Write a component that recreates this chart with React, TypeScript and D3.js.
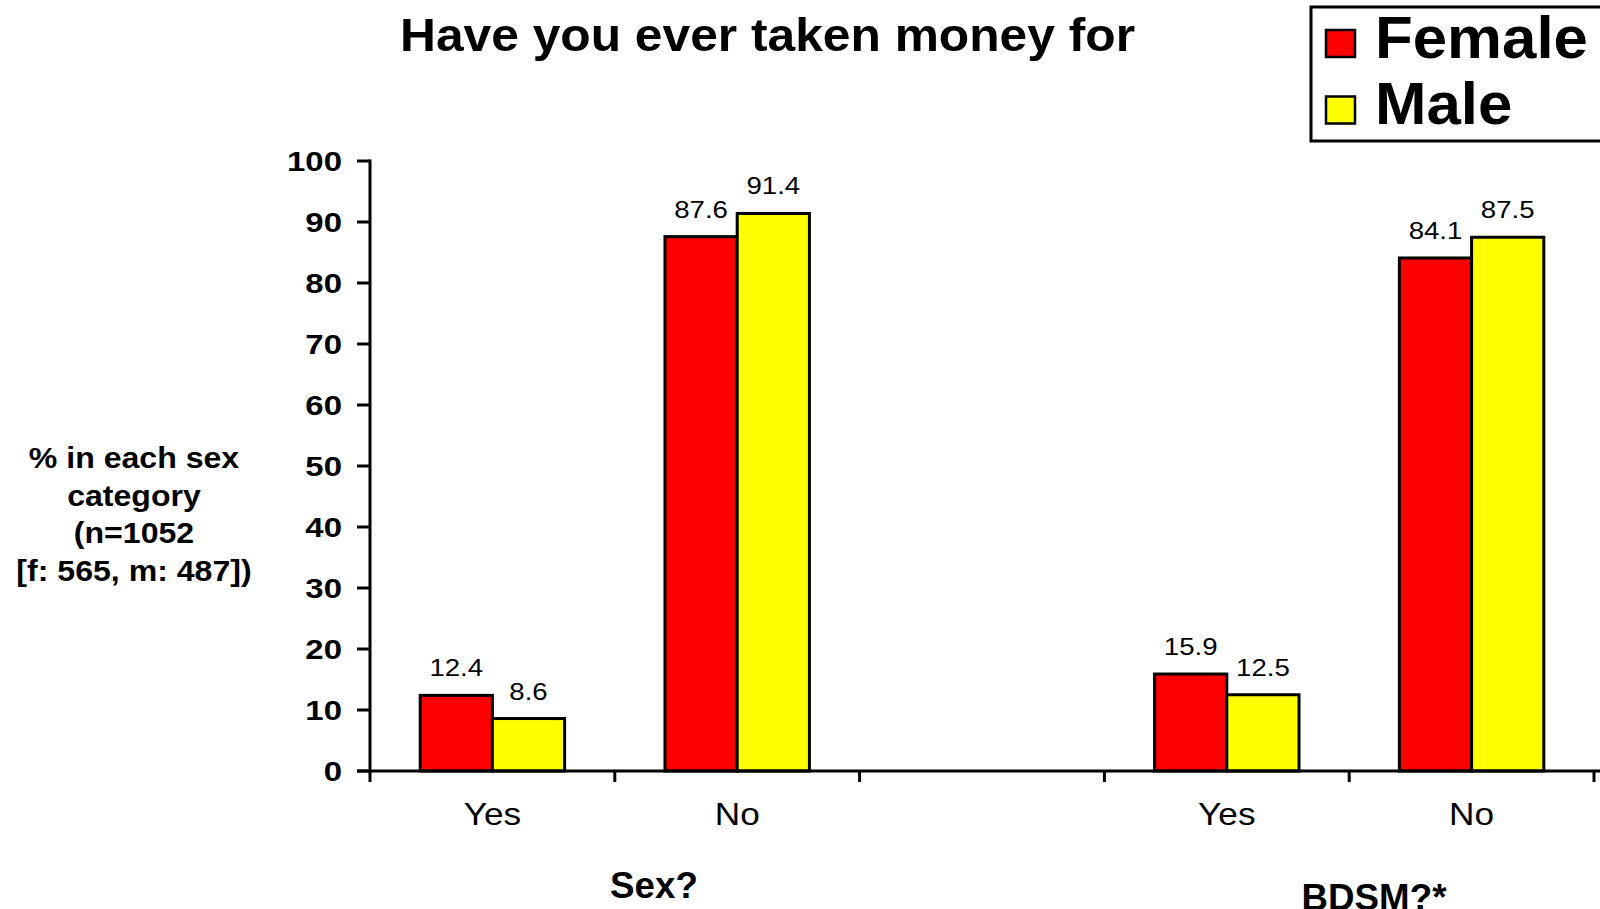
import * as d3 from "d3";
import React from "react";

const groups = ["Sex?", "BDSM?*"];
const answers = ["Yes", "No"];
// slot order along the x axis; the empty slot is the gap between the groups
const slots = ["Sex-Yes", "Sex-No", "gap", "BDSM-Yes", "BDSM-No"];
const slotLabels = ["Yes", "No", "", "Yes", "No"];
const series = ["Female", "Male"];
const colors = ["#ff0000", "#ffff00"];
const femaleValues = [12.4, 87.6, 15.9, 84.1];
const maleValues = [8.6, 91.4, 12.5, 87.5];
const yTicks = [0, 10, 20, 30, 40, 50, 60, 70, 80, 90, 100];
const yLabelLines = ["% in each sex", "category", "(n=1052", "[f: 565, m: 487])"];

const W = 1600;
const H = 909;
const FONT = "'Liberation Sans', Arial, Helvetica, sans-serif";

// text slightly widened, like the original's rendering
function T({
  x,
  y,
  size,
  bold,
  anchor = "start",
  sx = 1,
  dy,
  children,
}: {
  x: number;
  y: number;
  size: number;
  bold?: boolean;
  anchor?: string;
  sx?: number;
  dy?: string;
  children: React.ReactNode;
}) {
  return (
    <text
      transform={`translate(${x},${y}) scale(${sx},1)`}
      fontSize={size}
      fontWeight={bold ? "bold" : "normal"}
      textAnchor={anchor}
      dy={dy}
    >
      {children}
    </text>
  );
}

export default function App() {
  const x = d3.scaleBand<string>().domain(slots).range([370, 1594]).paddingInner(0.41).paddingOuter(0.205);
  const xInner = d3.scaleBand<string>().domain(series).range([0, x.bandwidth()]);
  const y = d3.scaleLinear().domain([0, 100]).range([771, 161]);

  const slotKeys = groups.flatMap((g) => answers.map((a) => `${g === "Sex?" ? "Sex" : "BDSM"}-${a}`));
  const bars = slotKeys.flatMap((key, i) =>
    series.map((s, j) => ({ key, s, color: colors[j], v: j === 0 ? femaleValues[i] : maleValues[i] }))
  );

  const step = x.step();
  const tickXs = d3.range(slots.length + 1).map((i) => 370 + i * step);

  return (
    <svg width={W} height={H} style={{ position: "absolute", left: 0, top: 0, background: "#fff" }} fontFamily={FONT}>
      <rect width={W} height={H} fill="#fff" />
      <text x={400} y={51} fontSize={47} fontWeight="bold" textLength={735} lengthAdjust="spacingAndGlyphs">
        Have you ever taken money for
      </text>

      {/* bars */}
      {bars.map((b) => (
        <rect
          key={b.key + b.s}
          x={(x(b.key) ?? 0) + (xInner(b.s) ?? 0)}
          y={y(b.v)}
          width={xInner.bandwidth()}
          height={y(0) - y(b.v)}
          fill={b.color}
          stroke="#000"
          strokeWidth={3}
        />
      ))}
      {bars.map((b) => (
        <T
          key={"l" + b.key + b.s}
          x={(x(b.key) ?? 0) + (xInner(b.s) ?? 0) + xInner.bandwidth() / 2}
          y={y(b.v) - 19}
          size={24}
          sx={1.15}
          anchor="middle"
        >
          {b.v.toFixed(1)}
        </T>
      ))}

      {/* y axis */}
      <line x1={370} x2={370} y1={y(100) - 1.5} y2={y(0)} stroke="#000" strokeWidth={3} />
      {yTicks.map((t) => (
        <g key={t}>
          <line x1={357} x2={370} y1={y(t)} y2={y(t)} stroke="#000" strokeWidth={3} />
          <T x={342} y={y(t)} dy="0.36em" size={27} bold sx={1.22} anchor="end">
            {t}
          </T>
        </g>
      ))}

      {/* x axis */}
      <line x1={357} x2={W} y1={y(0)} y2={y(0)} stroke="#000" strokeWidth={3} />
      {tickXs.map((tx, i) => (
        <line key={i} x1={tx} x2={tx} y1={y(0)} y2={y(0) + 11} stroke="#000" strokeWidth={3} />
      ))}
      {slots.map((s, i) => (
        <T key={s} x={(x(s) ?? 0) + x.bandwidth() / 2} y={825} size={32} sx={1.1} anchor="middle">
          {slotLabels[i]}
        </T>
      ))}
      <T x={654} y={898} size={36} bold sx={1.02} anchor="middle">
        {groups[0]}
      </T>
      <T x={1374} y={910} size={36} bold sx={1.02} anchor="middle">
        {groups[1]}
      </T>

      {/* y label */}
      {yLabelLines.map((l, i) => (
        <T key={l} x={134} y={468 + i * 37.7} size={30} bold sx={1.07} anchor="middle">
          {l}
        </T>
      ))}

      {/* legend */}
      <rect x={1311} y={7} width={320} height={134} fill="#fff" stroke="#000" strokeWidth={3} />
      {series.map((s, i) => (
        <g key={s}>
          <rect x={1326} y={30 + i * 66.5} width={29} height={27} fill={colors[i]} stroke="#000" strokeWidth={2.5} />
          <T x={1375} y={58 + i * 66} size={60} bold sx={1.03}>
            {s}
          </T>
        </g>
      ))}
    </svg>
  );
}
